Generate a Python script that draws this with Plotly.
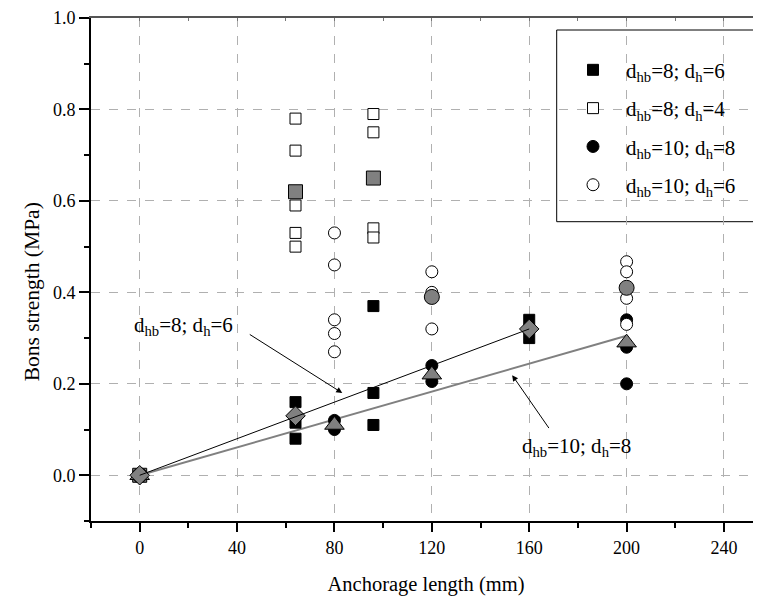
import plotly.graph_objects as go

# ---- data ----
# d_hb=8; d_h=6 (filled squares)
x_s86 = [64, 64, 64, 96, 96, 96, 160, 160]
y_s86 = [0.16, 0.115, 0.08, 0.37, 0.18, 0.11, 0.34, 0.30]
# d_hb=8; d_h=4 (open squares)
x_s84 = [64, 64, 64, 64, 64, 96, 96, 96, 96]
y_s84 = [0.78, 0.71, 0.59, 0.53, 0.50, 0.79, 0.75, 0.54, 0.52]
# d_hb=10; d_h=8 (filled circles)
x_c108 = [80, 80, 120, 120, 200, 200, 200]
y_c108 = [0.12, 0.10, 0.24, 0.205, 0.34, 0.28, 0.20]
# d_hb=10; d_h=6 (open circles)
x_c106 = [80, 80, 80, 80, 80, 120, 120, 120, 200, 200, 200, 200]
y_c106 = [0.53, 0.46, 0.34, 0.31, 0.27, 0.445, 0.40, 0.32, 0.467, 0.445, 0.387, 0.33]

# mean values (grey markers)
x_m86 = [0, 64, 160]
y_m86 = [0, 0.13, 0.32]
x_m84 = [0, 64, 96]
y_m84 = [0, 0.62, 0.65]
x_m108 = [0, 80, 120, 200]
y_m108 = [0, 0.11, 0.22, 0.29]
x_m106 = [0, 120, 200]
y_m106 = [0, 0.39, 0.41]

# linear fits
x_fit86 = [0, 160]
y_fit86 = [0, 0.32]
x_fit108 = [0, 200]
y_fit108 = [0, 0.305]

labels = ["d<sub>hb</sub>=8; d<sub>h</sub>=6",
          "d<sub>hb</sub>=8; d<sub>h</sub>=4",
          "d<sub>hb</sub>=10; d<sub>h</sub>=8",
          "d<sub>hb</sub>=10; d<sub>h</sub>=6"]
x_title = "Anchorage length (mm)"
y_title = "Bons strength (MPa)"

FONT = "Liberation Serif"
GREY = "#808080"
XR = [-20, 255.2]
YR = [-0.1, 1.0]

fig = go.Figure()

# fit lines
fig.add_trace(go.Scatter(x=x_fit108, y=y_fit108, mode="lines", line=dict(color=GREY, width=2),
                         showlegend=False, hoverinfo="skip"))
fig.add_trace(go.Scatter(x=x_fit86, y=y_fit86, mode="lines", line=dict(color="black", width=1),
                         showlegend=False, hoverinfo="skip", xaxis="x2"))

# data
fig.add_trace(go.Scatter(x=x_s86, y=y_s86, mode="markers", name=labels[0], legendgroup="a",
                         marker=dict(symbol="square", size=11, color="black",
                                     line=dict(color="black", width=1))))
fig.add_trace(go.Scatter(x=x_s84, y=y_s84, mode="markers", name=labels[1], legendgroup="b",
                         marker=dict(symbol="square", size=11, color="white",
                                     line=dict(color="black", width=1))))
fig.add_trace(go.Scatter(x=x_c108, y=y_c108, mode="markers", name=labels[2], legendgroup="c",
                         marker=dict(symbol="circle", size=12, color="black",
                                     line=dict(color="black", width=1))))
fig.add_trace(go.Scatter(x=x_c106, y=y_c106, mode="markers", name=labels[3], legendgroup="d",
                         marker=dict(symbol="circle", size=12, color="white",
                                     line=dict(color="black", width=1))))

# means
fig.add_trace(go.Scatter(x=x_m84, y=y_m84, mode="markers", showlegend=False,
                         marker=dict(symbol="square", size=14, color=GREY,
                                     line=dict(color="black", width=1))))
fig.add_trace(go.Scatter(x=x_m106, y=y_m106, mode="markers", showlegend=False,
                         marker=dict(symbol="circle", size=15, color=GREY,
                                     line=dict(color="black", width=1))))
fig.add_trace(go.Scatter(x=x_m108, y=y_m108, mode="markers", showlegend=False,
                         marker=dict(symbol="triangle-up", size=17, color=GREY,
                                     line=dict(color="black", width=1))))
fig.add_trace(go.Scatter(x=x_m86, y=y_m86, mode="markers", showlegend=False,
                         marker=dict(symbol="diamond", size=15, color=GREY,
                                     line=dict(color="black", width=1))))

axis_common = dict(showline=True, linecolor="black", linewidth=2, ticks="outside",
                   tickwidth=2, tickcolor="black", zeroline=False, automargin=False,
                   showgrid=True, gridcolor="#b0b0b0", griddash="dash", gridwidth=1,
                   tickfont=dict(family=FONT, size=18, color="black"))

fig.update_layout(
    width=753, height=588,
    margin=dict(l=83, r=0, t=10, b=75),
    paper_bgcolor="white", plot_bgcolor="white",
    font=dict(family=FONT, color="black"),
    xaxis=dict(range=XR, tick0=0, dtick=40, ticklen=9,
               minor=dict(dtick=20, ticklen=5, tickwidth=2, tickcolor="black", ticks="outside"),
               title=dict(text=x_title, font=dict(family=FONT, size=20.5), standoff=22),
               **axis_common),
    xaxis2=dict(range=XR, overlaying="x", side="top", showline=True, linecolor="#555555",
                linewidth=1.5, ticks="inside", ticklen=3, tickcolor="#777777", tick0=0, dtick=40,
                minor=dict(dtick=20, ticklen=3, tickcolor="#777777", ticks="inside"),
                showticklabels=False, showgrid=False, zeroline=False, automargin=False),
    yaxis=dict(range=YR, tick0=0, dtick=0.2, tickformat=".1f", ticklen=10,
               minor=dict(dtick=0.1, ticklen=5, tickwidth=2, tickcolor="black", ticks="outside"),
               **axis_common),
    legend=dict(x=0.70, y=0.937, xanchor="left", yanchor="top",
                bgcolor="rgba(0,0,0,0)", borderwidth=0, itemwidth=56,
                font=dict(family=FONT, size=21, color="black"),
                tracegroupgap=8, traceorder="grouped"),
    showlegend=True,
)

# legend frame
fig.add_shape(type="rect", xref="paper", yref="paper",
              x0=(556.7 - 91) / 670, x1=(754 - 91) / 670,
              y0=1 - (221.7 - 18) / 503, y1=1 - (30 - 18) / 503,
              line=dict(color="black", width=1), fillcolor="white", layer="below")

# y-axis title (placed as in the reference, slightly below the axis centre)
fig.add_annotation(x=(32 - 91) / 670, y=0.4, xref="paper", yref="y", text=y_title,
                   textangle=-90, showarrow=False, xanchor="center", yanchor="middle",
                   font=dict(family=FONT, size=21.5, color="black"))

# annotations
fig.add_annotation(x=18, y=0.326, xref="x", yref="y", text=labels[0], showarrow=False,
                   font=dict(family=FONT, size=21, color="black"))
fig.add_annotation(x=179.5, y=0.062, xref="x", yref="y", text=labels[2], showarrow=False,
                   font=dict(family=FONT, size=21, color="black"))
fig.add_annotation(x=83.2, y=0.18, ax=44.6, ay=0.31, xref="x", yref="y", axref="x", ayref="y",
                   text="", showarrow=True, arrowhead=2, arrowsize=1.2, arrowwidth=1,
                   arrowcolor="black", standoff=0, startstandoff=0)
fig.add_annotation(x=153, y=0.219, ax=168.5, ay=0.10, xref="x", yref="y", axref="x", ayref="y",
                   text="", showarrow=True, arrowhead=2, arrowsize=1.2, arrowwidth=1,
                   arrowcolor="black", standoff=0, startstandoff=0)

fig.write_html("out.html")
